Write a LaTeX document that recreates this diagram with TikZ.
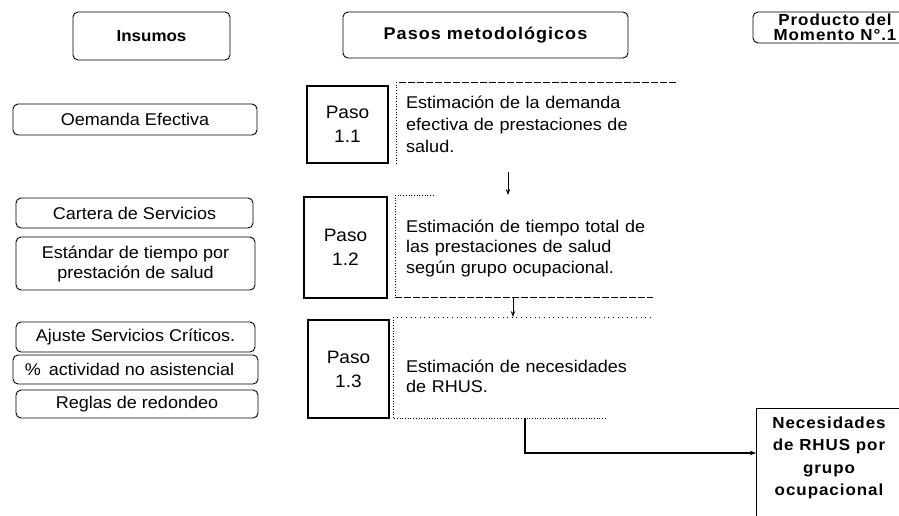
\documentclass[tikz,border=0pt]{standalone}
\usepackage{fontspec}
\setmainfont{Liberation Sans}[FakeStretch=1.06]
\newfontfamily\hdfont{Liberation Sans}[FakeStretch=1.06,LetterSpace=6]
\usetikzlibrary{arrows.meta}
\begin{document}
\begin{tikzpicture}[x=1pt,y=-1pt,
  every node/.style={font=\fontsize{17}{21}\selectfont, inner sep=0pt},
  rbox/.style={draw, rounded corners=5pt, line width=0.9pt, align=center},
  pbox/.style={draw, line width=1.2pt, align=center, font=\fontsize{18}{24}\selectfont},
  frame/.style={inner sep=0pt, anchor=north west},
  dotl/.style={line width=0.7pt, dotted},
  sparse/.style={line width=0.6pt, loosely dotted},
  dashl/.style={line width=0.8pt, dash pattern=on 7pt off 2pt},
  arr/.style={line width=0.9pt, -{Stealth[length=6pt,width=4.5pt]}},
  ttxt/.style={anchor=base west, text width=265pt, align=left},
  hd/.style={font=\fontsize{17}{21}\selectfont\hdfont\bfseries},
  hds/.style={font=\fontsize{16}{15}\selectfont\hdfont\bfseries},
]
\path[use as bounding box, clip] (0,0) rectangle (899,515);

% headers
\node[rbox, minimum width=157pt, minimum height=48pt, font=\fontsize{16}{20}\selectfont\bfseries] (ins) at (151.5,36) {Insumos};
\node[rbox, minimum width=285pt, minimum height=46pt, hd] (pasos) at (485.5,35) {Pasos metodológicos};
\node[rbox, minimum width=164pt, minimum height=31pt, hds] (prod) at (835,27.5) {Producto del\\Momento N°.1};

% inputs
\node[rbox, minimum width=244pt, minimum height=31pt] (oem) at (135,119.5) {Oemanda Efectiva};
\node[rbox, minimum width=237pt, minimum height=30pt] (cart) at (134.5,213) {Cartera de Servicios};
\node[rbox, minimum width=239pt, minimum height=53pt, font=\fontsize{17}{20}\selectfont] (est) at (135.5,263.5) {Estándar de tiempo por\\prestación de salud};
\node[rbox, minimum width=239pt, minimum height=30pt] (aj) at (135.5,337) {Ajuste Servicios Críticos.};
\node[rbox, minimum width=245pt, minimum height=29pt] (pct) at (135.5,369.5) {\%\ \,actividad no asistencial\hspace{12pt}};
\node[rbox, minimum width=242pt, minimum height=28pt] (reg) at (137,404) {Reglas de redondeo};

% paso boxes
\node[pbox, minimum width=81pt, minimum height=77pt] (p11) at (347.5,124.5) {Paso\\1.1};
\node[pbox, minimum width=83pt, minimum height=101pt] (p12) at (345.5,247.5) {Paso\\1.2};
\node[pbox, minimum width=81pt, minimum height=98pt] (p13) at (348.5,369) {Paso\\1.3};

% text frames
\node[frame, minimum width=280pt, minimum height=90pt] (f11) at (396,82) {};
\node[frame, minimum width=258pt, minimum height=102pt] (f12) at (395,195) {};
\node[frame, minimum width=257pt, minimum height=101pt] (f13) at (393,317) {};
\draw[dashl] (f11.north east) -- (f11.north west);
\draw[dotl] (f11.north west) -- ([yshift=9pt]f11.south west);
\draw[dotl] (f12.north west) -- (f12.south west);
\draw[dashl] (f12.south west) -- (f12.south east);
\draw[dotl] (f12.north west) -- ([xshift=40pt]f12.north west);
\draw[sparse] (f13.north east) -- (f13.north west);
\draw[dotl] (f13.north west) -- (f13.south west) -- ([xshift=-45pt]f13.south east);

\node[ttxt, font=\fontsize{17}{22}\selectfont] (t11) at (406,108) {Estimación de la demanda\\efectiva de prestaciones de\\salud.};
\node[ttxt, font=\fontsize{17}{20.5}\selectfont] (t12) at (406,232) {Estimación de tiempo total de\\\makebox[237pt][s]{las prestaciones de salud}\\según grupo ocupacional.};
\node[ttxt, font=\fontsize{17}{20}\selectfont] (t13) at (406,372) {Estimación de necesidades\\de RHUS.};

% output
\node[draw, line width=0.9pt, minimum width=146pt, minimum height=130pt, anchor=north west] (out) at (756,408) {};
\node[align=center, font=\fontsize{16}{22.3}\selectfont\hdfont\bfseries] (outt) at (829,458) {Necesidades\\de RHUS por\\grupo\\ocupacional};

% connectors
\coordinate (a1) at ([xshift=112pt]f11.south west);
\draw[arr] (a1) -- (a1 |- f12.north);
\coordinate (a2) at ([xshift=118pt]f12.south west);
\draw[arr] (a2) -- (a2 |- f13.north);
\coordinate (a3) at ([xshift=132pt]f13.south west);
\coordinate (a4) at ([yshift=-45pt]out.north west);
\draw[arr, line width=1.3pt] (a3) |- (a4);
\end{tikzpicture}
\end{document}
